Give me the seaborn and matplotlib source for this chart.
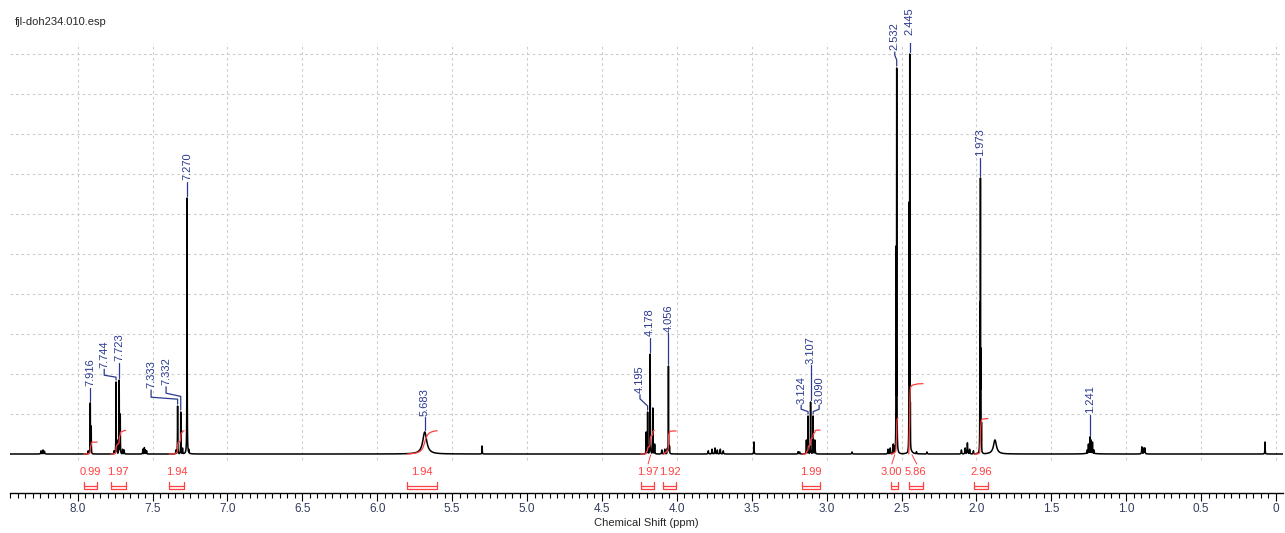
import numpy as np
import pandas as pd
import matplotlib
matplotlib.use("Agg")
import matplotlib.pyplot as plt
from matplotlib.ticker import MultipleLocator, FuncFormatter
import seaborn as sns

# ---------------------------------------------------------------------------
# 1H NMR peak table: chemical shift (ppm), height (grid units), half-width (ppm)
# ---------------------------------------------------------------------------
peak_ppm = [8.245, 8.232, 8.222,
            7.930, 7.916, 7.910,
            7.758, 7.744, 7.737, 7.723, 7.716, 7.700, 7.690,
            7.565, 7.555, 7.548, 7.540,
            7.345, 7.333, 7.312, 7.300, 7.270, 7.258,
            5.683, 5.300,
            4.205, 4.195, 4.178, 4.160, 4.148, 4.100, 4.080, 4.063, 4.056, 4.049,
            3.790, 3.765, 3.745, 3.730, 3.710, 3.690, 3.485, 3.190, 3.180,
            3.135, 3.124, 3.107, 3.090, 3.078, 2.830,
            2.590, 2.575, 2.555, 2.545, 2.536, 2.532,
            2.449, 2.445, 2.441, 2.443, 2.400, 2.330,
            2.100, 2.075, 2.060, 2.045, 2.020,
            1.976, 1.973, 1.970, 1.966, 1.876,
            1.260, 1.252, 1.241, 1.234, 1.225, 1.215, 1.240,
            0.895, 0.882, 0.875, 0.073]
peak_height = [0.08, 0.10, 0.07,
               0.08, 1.28, 0.70,
               0.08, 1.80, 0.35, 1.85, 1.00, 0.12, 0.10,
               0.12, 0.16, 0.10, 0.08,
               0.10, 1.20, 1.05, 0.15, 6.40, 0.12,
               0.55, 0.20,
               0.55, 1.05, 2.50, 1.15, 0.25, 0.10, 0.12, 0.15, 2.20, 0.20,
               0.08, 0.12, 0.15, 0.10, 0.12, 0.08, 0.30, 0.06, 0.05,
               0.35, 0.95, 1.30, 0.95, 0.35, 0.05,
               0.12, 0.15, 0.25, 0.20, 5.20, 9.65,
               6.30, 10.00, 1.30, 0.18, 0.06, 0.05,
               0.10, 0.15, 0.28, 0.12, 0.08,
               3.80, 6.90, 2.65, 0.80, 0.35,
               0.10, 0.25, 0.43, 0.35, 0.30, 0.10, 0.05,
               0.18, 0.15, 0.15, 0.30]
peak_hw = [0.002, 0.002, 0.002,
           0.001, 0.001, 0.001,
           0.001, 0.001, 0.001, 0.001, 0.001, 0.0015, 0.0015,
           0.0015, 0.0015, 0.0015, 0.0015,
           0.0015, 0.001, 0.001, 0.0015, 0.001, 0.0015,
           0.016, 0.0012,
           0.001, 0.001, 0.001, 0.001, 0.0015, 0.002, 0.002, 0.0015, 0.001, 0.0015,
           0.002, 0.002, 0.002, 0.002, 0.002, 0.002, 0.0012, 0.002, 0.002,
           0.0015, 0.001, 0.001, 0.001, 0.0015, 0.002,
           0.002, 0.002, 0.002, 0.002, 0.001, 0.001,
           0.001, 0.001, 0.001, 0.01, 0.002, 0.002,
           0.002, 0.002, 0.002, 0.002, 0.002,
           0.001, 0.001, 0.001, 0.001, 0.012,
           0.0015, 0.0015, 0.001, 0.001, 0.0015, 0.0015, 0.02,
           0.002, 0.002, 0.002, 0.0012]

# picked peaks (label text and the peak each label points to)
label_text = ["7.916", "7.744", "7.723", "7.333", "7.332", "7.270", "5.683",
              "4.195", "4.178", "4.056", "3.124", "3.107", "3.090",
              "2.532", "2.445", "1.973", "1.241"]
label_peak = [7.916, 7.744, 7.723, 7.333, 7.312, 7.270, 5.683,
              4.195, 4.178, 4.056, 3.124, 3.107, 3.090,
              2.532, 2.445, 1.973, 1.241]

# integrals: value and ppm range (from high to low field)
int_values = [0.99, 1.97, 1.94, 1.94, 1.97, 1.92, 1.99, 3.00, 5.86, 2.96]
int_from = [7.96, 7.78, 7.39, 5.80, 4.24, 4.09, 3.165, 2.570, 2.452, 2.016]
int_to = [7.87, 7.68, 7.29, 5.60, 4.15, 4.005, 3.044, 2.523, 2.356, 1.923]

# ---------------------------------------------------------------------------
# layout of the peak labels: text x (ppm), text base y, bend heights
# ---------------------------------------------------------------------------
lab_x = [7.916, 7.823, 7.723, 7.510, 7.410, 7.270, 5.683,
         4.246, 4.178, 4.056, 3.170, 3.107, 3.050,
         2.545, 2.445, 1.973, 1.241]
lab_base = [1.65, 2.12, 2.28, 1.60, 1.68, 6.80, 0.92,
            1.48, 2.90, 3.02, 1.22, 2.22, 1.22,
            10.05, 10.43, 7.40, 0.98]
lab_bend = [None, (1.97, 1.92), None, (1.42, 1.37), (1.52, 1.44), None, None,
            (1.38, 1.20), None, None, (1.12, 1.06), None, (1.12, 1.06),
            (9.97, 9.85), None, None, None]
int_label_shift = [0, 0, 0, 0, 0, 0, 0, 0.022, 0, 0]

BLUE = "#2B3990"
RED = "#FF4040"
GRID = "#CDCDCD"

sns.set_style("white")
plt.rcParams["font.family"] = ["Liberation Sans", "DejaVu Sans"]
plt.rcParams["path.simplify"] = False

# spectrum on a fine ppm axis (peak centres included exactly)
ppm = np.unique(np.concatenate([np.arange(-0.06, 8.47, 0.0004), peak_ppm]))
shapes = np.array([h * w ** 2 / ((ppm - p) ** 2 + w ** 2)
                   for p, h, w in zip(peak_ppm, peak_height, peak_hw)])
intensity = shapes.max(axis=0)
spec = pd.DataFrame({"ppm": ppm, "intensity": intensity})

fig = plt.figure(figsize=(12.85, 5.33), dpi=100)
ax = fig.add_axes([10 / 1285, 1 - 493 / 533, 1273 / 1285, 450 / 533])
x_lo, x_hi = 8.452, -0.047
y_lo, y_hi = -0.975, 10.275
ax.set_xlim(x_lo, x_hi)
ax.set_ylim(y_lo, y_hi)

# dashed grid
dash = (0, (2.4, 2.6))
ax.hlines(np.arange(1, 11), x_lo, x_hi, colors=GRID, linewidth=0.8, linestyles=[dash], zorder=0)
ax.vlines(np.arange(0, 8.01, 0.5), -0.15, y_hi, colors=GRID, linewidth=0.8, linestyles=[dash], zorder=0)

# spectrum
sns.lineplot(data=spec, x="ppm", y="intensity", ax=ax, color="black", linewidth=1.1,
             estimator=None, sort=False, zorder=3)

# integral curves, brackets and values
for k, (val, a, b) in enumerate(zip(int_values, int_from, int_to)):
    m = (ppm <= a) & (ppm >= b)
    xs = ppm[m][::-1]
    ys = intensity[m][::-1]
    cum = np.concatenate([[0.0], np.cumsum(0.5 * (ys[1:] + ys[:-1]) * np.abs(np.diff(xs)))])
    cum = cum / cum[-1] * 0.3 * val
    ax.plot(xs, cum, color=RED, linewidth=0.9, zorder=4)
    ax.plot([a, a, b, b], [-0.70, -0.875, -0.875, -0.70], color=RED, linewidth=0.9)
    ax.plot([a, b], [-0.80, -0.80], color=RED, linewidth=0.9)
    ax.text((a + b) / 2 + int_label_shift[k], -0.45, f"{val:.2f}", color=RED,
            fontsize=8, ha="center", va="center")

# small connectors from crowded integral values to their curves
for (x0, y0, x1, y1) in [(4.192, -0.25, 4.175, -0.02),
                         (2.565, -0.25, 2.545, -0.02),
                         (2.398, -0.25, 2.430, -0.02)]:
    ax.plot([x0, x1], [y0, y1], color=RED, linewidth=0.7)

# peak labels with leader lines
for txt, px, lx, base, bend in zip(label_text, label_peak, lab_x, lab_base, lab_bend):
    top = intensity[np.argmin(np.abs(ppm - px))] + 0.05
    if bend is None:
        xs, ys = [lx, px], [base, top]
    else:
        xs, ys = [lx, lx, px, px], [base, bend[0], bend[1], top]
    ax.plot(xs, ys, color=BLUE, linewidth=0.9, zorder=5)
    ax.text(lx, base + 0.04, txt, rotation=90, color=BLUE, fontsize=8,
            ha="center", va="bottom", clip_on=False)

# axes styling
for side in ("left", "right", "top"):
    ax.spines[side].set_visible(False)
ax.spines["bottom"].set_color("black")
ax.spines["bottom"].set_linewidth(1.0)
ax.set_yticks([])
ax.set_ylabel("")
ax.xaxis.set_major_locator(MultipleLocator(0.5))
ax.xaxis.set_minor_locator(MultipleLocator(0.05))
ax.xaxis.set_major_formatter(FuncFormatter(lambda v, _: "0" if abs(v) < 1e-9 else f"{v:.1f}"))
ax.tick_params(axis="x", which="major", direction="out", length=5.5, width=0.8,
               pad=2, labelsize=8.5, labelcolor="#333C5C", color="black", bottom=True)
ax.tick_params(axis="x", which="minor", direction="out", length=3.5, width=0.8,
               color="black", bottom=True)
ax.set_xlabel("Chemical Shift (ppm)", fontsize=8, labelpad=1.5)

fig.text(15 / 1285, 1 - 22 / 533, "fjl-doh234.010.esp", fontsize=8, va="center", ha="left")

fig.savefig("out.png", dpi=100, facecolor="white")
